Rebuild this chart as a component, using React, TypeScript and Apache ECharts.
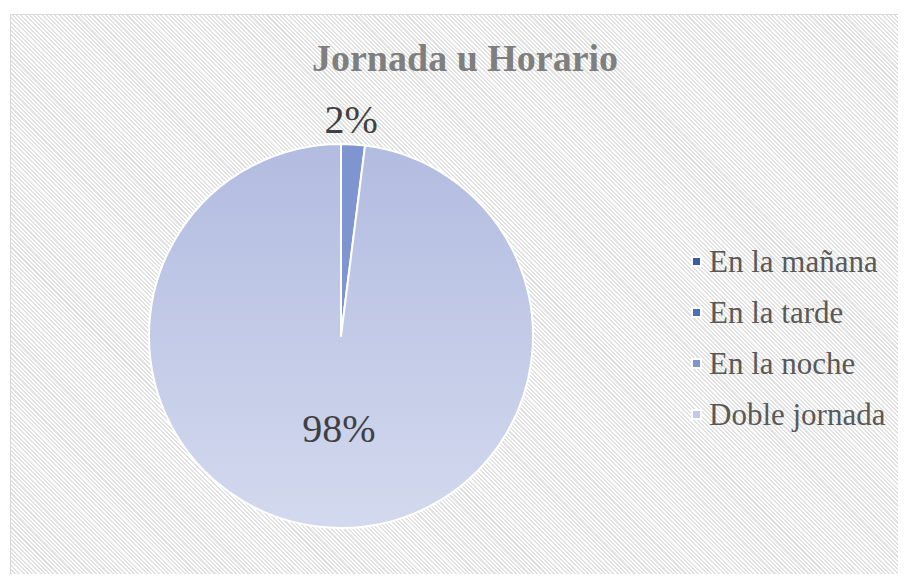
import React, { useEffect, useRef } from "react";
import * as echarts from "echarts";

const titleText = "Jornada u Horario";
const categories = ["En la mañana", "En la tarde", "En la noche", "Doble jornada"];
const values = [0, 0, 2, 98];
const colors = ["#3a5ca4", "#4b6fbd", "#7f95d0", "#c3cae7"];

const SERIF = "Liberation Serif";

export default function App() {
  const ref = useRef<HTMLDivElement>(null);
  useEffect(() => {
    const chart = echarts.init(ref.current!, null, { renderer: "svg" });
    const data = categories.map((name, i) => {
      const item: any = {
        name,
        value: values[i],
        itemStyle: { color: colors[i] },
        label: { show: values[i] > 0 },
      };
      if (i === 3) {
        item.itemStyle = {
          color: new echarts.graphic.LinearGradient(0, 0, 0, 1, [
            { offset: 0, color: "#b2bce0" },
            { offset: 1, color: "#d3d9ee" },
          ]),
        };
        item.label = { show: true, offset: [4, -6] };
      }
      if (i === 2) {
        item.label = { show: true, offset: [4, -118] };
      }
      return item;
    });
    chart.setOption({
      animation: false,
      title: {
        text: titleText,
        left: 307,
        top: 34,
        textStyle: {
          fontFamily: SERIF,
          fontWeight: "bold",
          fontSize: 38,
          color: "#7f7f7f",
        },
      },
      legend: {
        orient: "vertical",
        left: 686,
        top: 241,
        icon: "rect",
        itemWidth: 9,
        itemHeight: 9,
        itemGap: 20,
        data: categories.map((name, i) => ({ name, itemStyle: { color: colors[i] } })),
        textStyle: {
          fontFamily: SERIF,
          fontSize: 31,
          lineHeight: 30,
          color: "#595959",
          padding: [0, 0, 0, 3],
        },
      },
      series: [
        {
          type: "pie",
          center: [341, 336],
          radius: 192,
          startAngle: 90,
          clockwise: true,
          avoidLabelOverlap: false,
          itemStyle: { borderColor: "#ffffff", borderWidth: 2 },
          label: {
            position: "inside",
            formatter: (p: any) => `${p.value}%`,
            fontFamily: SERIF,
            fontSize: 40,
            color: "#404040",
          },
          labelLine: { show: false },
          emphasis: { disabled: true },
          data,
        },
      ],
    });
    return () => chart.dispose();
  }, []);
  const stripes =
    "repeating-linear-gradient(45deg, #ffffff 0px, #ffffff 1.5px, #e1e1e1 1.5px, #e1e1e1 3px)";
  return (
    <div style={{ position: "relative", margin: -8, width: 906, height: 582, overflow: "hidden", background: "#ffffff" }}>
      <div
        style={{
          position: "absolute",
          left: 10,
          top: 14,
          width: 930,
          height: 600,
          border: "1px solid #d9d9d9",
          background: stripes,
        }}
      />
      <div ref={ref} style={{ position: "absolute", left: 0, top: 0, width: 906, height: 582 }} />
    </div>
  );
}
